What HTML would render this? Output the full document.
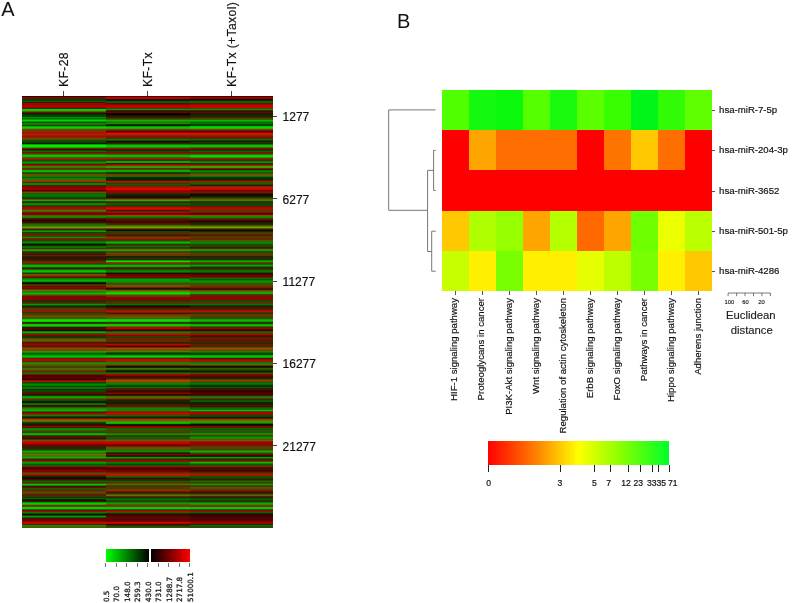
<!DOCTYPE html>
<html><head><meta charset="utf-8"><title>Figure</title>
<style>
html,body{margin:0;padding:0;background:#fff;}
body{width:793px;height:603px;position:relative;overflow:hidden;font-family:"Liberation Sans",sans-serif;color:#111;}
.abs{position:absolute;}
.lab{position:absolute;white-space:nowrap;line-height:1;-webkit-text-stroke:0.18px #111;}
.rot{position:absolute;white-space:nowrap;line-height:1;transform-origin:0 0;transform:rotate(-90deg);-webkit-text-stroke:0.18px #111;}
.tk{position:absolute;background:#444;}
.hc{position:absolute;top:0;height:100%;}
#hc0{left:0.0px;width:84.3px;background:linear-gradient(to bottom,#160000 0.25px,#370000 0.75px,#870000 1.25px,#a00200 1.75px,#730f00 2.25px,#3d1d00 2.75px,#172f00 3.25px,#034a00 3.75px,#004b00 4.25px,#004a00 4.75px,#005f00 5.25px,#036800 5.75px,#1b2a00 6.25px,#570400 6.75px,#910000 7.25px,#bb0000 7.75px,#aa0000 8.25px,#910000 8.75px,#9d0000 9.25px,#c10000 9.75px,#ca0000 10.25px,#ba0000 10.75px,#9f0200 11.25px,#6f0800 11.75px,#4d1100 12.25px,#195f00 12.75px,#04c900 13.25px,#00da00 13.75px,#01d600 14.25px,#18b300 14.75px,#4f6300 15.25px,#724a00 15.75px,#642800 16.25px,#4f0700 16.75px,#370a00 17.25px,#1d1400 17.75px,#0d2a00 18.25px,#024100 18.75px,#004100 19.25px,#003e00 19.75px,#004600 20.25px,#005500 20.75px,#007d00 21.25px,#009d00 21.75px,#007d00 22.25px,#005f00 22.75px,#008700 23.25px,#00b800 23.75px,#00cf00 24.25px,#00d700 24.75px,#00ac00 25.25px,#007b00 25.75px,#005a00 26.25px,#004900 26.75px,#007300 27.25px,#049c00 27.75px,#198200 28.25px,#2d5d00 28.75px,#284600 29.25px,#1d4100 29.75px,#0f8500 30.25px,#02cb00 30.75px,#00d600 31.25px,#01d200 31.75px,#0ec200 32.25px,#2f9a00 32.75px,#475e00 33.25px,#952800 33.75px,#a62100 34.25px,#793a00 34.75px,#634300 35.25px,#5e3d00 35.75px,#742e00 36.25px,#ae0e00 36.75px,#cb0100 37.25px,#d60100 37.75px,#cb0c00 38.25px,#a42500 38.75px,#882c00 39.25px,#7f2600 39.75px,#961400 40.25px,#ac0700 40.75px,#9b1900 41.25px,#843100 41.75px,#784100 42.25px,#6b4d00 42.75px,#505000 43.25px,#3a5700 43.75px,#1e5000 44.25px,#044900 44.75px,#005000 45.25px,#005600 45.75px,#004b00 46.25px,#013900 46.75px,#071700 47.25px,#100c00 47.75px,#076e00 48.25px,#01d900 48.75px,#00eb00 49.25px,#00f000 49.75px,#00f300 50.25px,#00ed00 50.75px,#07d500 51.25px,#2f6b00 51.75px,#7f2b00 52.25px,#7b1400 52.75px,#550500 53.25px,#260900 53.75px,#0c2400 54.25px,#046b00 54.75px,#057c00 55.25px,#105c00 55.75px,#2a2f00 56.25px,#860d00 56.75px,#9c0f00 57.25px,#6c2e00 57.75px,#3b5100 58.25px,#12a400 58.75px,#01c800 59.25px,#00cf00 59.75px,#05c800 60.25px,#10b100 60.75px,#278300 61.25px,#663c00 61.75px,#982c00 62.25px,#9f1e00 62.75px,#7d2800 63.25px,#533800 63.75px,#393900 64.25px,#274100 64.75px,#146400 65.25px,#038700 65.75px,#009100 66.25px,#009300 66.75px,#008700 67.25px,#066b00 67.75px,#3c2300 68.25px,#a00400 68.75px,#be0200 69.25px,#9c1900 69.75px,#436100 70.25px,#1fab00 70.75px,#0bb500 71.25px,#2d5e00 71.75px,#812300 72.25px,#9f0b00 72.75px,#6e1500 73.25px,#146e00 73.75px,#01af00 74.25px,#00c400 74.75px,#00c200 75.25px,#00a900 75.75px,#008900 76.25px,#055300 76.75px,#233800 77.25px,#4a3c00 77.75px,#5f4b00 78.25px,#6b5700 78.75px,#695500 79.25px,#585000 79.75px,#2d6900 80.25px,#078200 80.75px,#006e00 81.25px,#005a00 81.75px,#007300 82.25px,#078c00 82.75px,#2d7800 83.25px,#545c00 83.75px,#695000 84.25px,#7c4400 84.75px,#a52d00 85.25px,#bb1a00 85.75px,#642300 86.25px,#1a4a00 86.75px,#0a7800 87.25px,#019900 87.75px,#009600 88.25px,#048000 88.75px,#223600 89.25px,#630e00 89.75px,#7d0500 90.25px,#890100 90.75px,#870000 91.25px,#840000 91.75px,#920000 92.25px,#b60000 92.75px,#ad0000 93.25px,#730000 93.75px,#500000 94.25px,#3d0100 94.75px,#6a0a00 95.25px,#991900 95.75px,#7a3e00 96.25px,#556700 96.75px,#375f00 97.25px,#184e00 97.75px,#0a6400 98.25px,#017d00 98.75px,#007d00 99.25px,#007800 99.75px,#007300 100.25px,#006c00 100.75px,#005a00 101.25px,#074000 101.75px,#3e1c00 102.25px,#7f1a00 102.75px,#354400 103.25px,#079b00 103.75px,#00b300 104.25px,#04ad00 104.75px,#1e5500 105.25px,#531a00 105.75px,#4e1a00 106.25px,#273000 106.75px,#0b7600 107.25px,#019600 107.75px,#009c00 108.25px,#058b00 108.75px,#105b00 109.25px,#1c4100 109.75px,#313300 110.25px,#572600 110.75px,#980c00 111.25px,#b50100 111.75px,#bb0100 112.25px,#ad0c00 112.75px,#862700 113.25px,#513d00 113.75px,#268300 114.25px,#299300 114.75px,#3c7400 115.25px,#703000 115.75px,#b40700 116.25px,#960000 116.75px,#680200 117.25px,#520f00 117.75px,#591500 118.25px,#8b0e00 118.75px,#853200 119.25px,#605e00 119.75px,#327d00 120.25px,#079200 120.75px,#009100 121.25px,#048000 121.75px,#1e3700 122.25px,#550e00 122.75px,#550500 123.25px,#450100 123.75px,#2d0000 124.25px,#1d0000 124.75px,#370000 125.25px,#540100 125.75px,#550500 126.25px,#460d00 126.75px,#173500 127.25px,#037600 127.75px,#007d00 128.25px,#077600 128.75px,#326400 129.25px,#635900 129.75px,#776400 130.25px,#737000 130.75px,#4ba500 131.25px,#29cc00 131.75px,#3c7800 132.25px,#703400 132.75px,#6d1900 133.25px,#500a00 133.75px,#173f00 134.25px,#039b00 134.75px,#00ad00 135.25px,#009700 135.75px,#015800 136.25px,#0e3e00 136.75px,#2e3a00 137.25px,#503000 137.75px,#811600 138.25px,#8c0f00 138.75px,#5c2500 139.25px,#324600 139.75px,#235500 140.25px,#185e00 140.75px,#1e7d00 141.25px,#2a8b00 141.75px,#4d4300 142.25px,#8c1b00 142.75px,#731e00 143.25px,#4b2800 143.75px,#392f00 144.25px,#2f3f00 144.75px,#195f00 145.25px,#047e00 145.75px,#008c00 146.25px,#008e00 146.75px,#006900 147.25px,#013f00 147.75px,#052300 148.25px,#110f00 148.75px,#271200 149.25px,#1d2500 149.75px,#086500 150.25px,#018300 150.75px,#018700 151.25px,#155a00 151.75px,#6e1900 152.25px,#721f00 152.75px,#247200 153.25px,#10a900 153.75px,#05b100 154.25px,#04a700 154.75px,#195f00 155.25px,#3c2300 155.75px,#4e2300 156.25px,#3f2700 156.75px,#183700 157.25px,#152800 157.75px,#4f0a00 158.25px,#650c00 158.75px,#572600 159.25px,#4d2f00 159.75px,#3c2300 160.25px,#2b1600 160.75px,#2b1400 161.25px,#2d1400 161.75px,#301400 162.25px,#331400 162.75px,#3c1100 163.25px,#470f00 163.75px,#5a0d00 164.25px,#630f00 164.75px,#3c2d00 165.25px,#2c5b00 165.75px,#3f3f00 166.25px,#6a2800 166.75px,#861900 167.25px,#8a1200 167.75px,#343e00 168.25px,#069900 168.75px,#00b300 169.25px,#00c800 169.75px,#00c600 170.25px,#01a900 170.75px,#0e7200 171.25px,#411b00 171.75px,#5f1000 172.25px,#461a00 172.75px,#243500 173.25px,#0b8600 173.75px,#01af00 174.25px,#00c100 174.75px,#00c500 175.25px,#00bf00 175.75px,#00a400 176.25px,#016900 176.75px,#114100 177.25px,#452c00 177.75px,#6c4600 178.25px,#775c00 178.75px,#7d4b00 179.25px,#843200 179.75px,#961900 180.25px,#9d0600 180.75px,#690f00 181.25px,#2a2100 181.75px,#125c00 182.25px,#039500 182.75px,#009b00 183.25px,#009a00 183.75px,#00af00 184.25px,#00bf00 184.75px,#00a500 185.25px,#007f00 185.75px,#004900 186.25px,#011500 186.75px,#100400 187.25px,#2a0400 187.75px,#501900 188.25px,#662f00 188.75px,#324100 189.25px,#145a00 189.75px,#362200 190.25px,#800400 190.75px,#960000 191.25px,#9a0000 191.75px,#820000 192.25px,#680700 192.75px,#642d00 193.25px,#5b5500 193.75px,#407900 194.25px,#368500 194.75px,#5d6000 195.25px,#595e00 195.75px,#218400 196.25px,#09a100 196.75px,#02bc00 197.25px,#02c000 197.75px,#09ae00 198.25px,#1f7900 198.75px,#712c00 199.25px,#a11d00 199.75px,#870f00 200.25px,#6c0200 200.75px,#780000 201.25px,#890000 201.75px,#8c0000 202.25px,#8b0100 202.75px,#820500 203.25px,#720c00 203.75px,#431b00 204.25px,#1f3400 204.75px,#143c00 205.25px,#113200 205.75px,#4d1700 206.25px,#8b1000 206.75px,#3b2d00 207.25px,#077600 207.75px,#009600 208.25px,#009f00 208.75px,#007300 209.25px,#034100 209.75px,#142800 210.25px,#2d1e00 210.75px,#372100 211.25px,#3e2400 211.75px,#503000 212.25px,#5d3b00 212.75px,#4c4100 213.25px,#463e00 213.75px,#692e00 214.25px,#8a1f00 214.75px,#b30a00 215.25px,#ab0a00 215.75px,#6b1f00 216.25px,#382c00 216.75px,#175000 217.25px,#1a5600 217.75px,#403e00 218.25px,#5f3c00 218.75px,#6f3d00 219.25px,#6e4600 219.75px,#654f00 220.25px,#5f5000 220.75px,#594f00 221.25px,#504b00 221.75px,#464900 222.25px,#366900 222.75px,#10b900 223.25px,#01df00 223.75px,#00eb00 224.25px,#00ec00 224.75px,#01e100 225.25px,#0dad00 225.75px,#2e3d00 226.25px,#4f1b00 226.75px,#4a1500 227.25px,#195600 227.75px,#04b900 228.25px,#00d400 228.75px,#00de00 229.25px,#00d400 229.75px,#01b400 230.25px,#097900 230.75px,#2b1600 231.25px,#520100 231.75px,#5f0000 232.25px,#5f0000 232.75px,#540000 233.25px,#450000 233.75px,#280100 234.25px,#0e1800 234.75px,#046800 235.25px,#009800 235.75px,#01b500 236.25px,#0aa900 236.75px,#178000 237.25px,#462d00 237.75px,#9c0600 238.25px,#a90200 238.75px,#760f00 239.25px,#371d00 239.75px,#192d00 240.25px,#0e4000 240.75px,#193700 241.25px,#2a2d00 241.75px,#463c00 242.25px,#604e00 242.75px,#645500 243.25px,#635a00 243.75px,#5c6100 244.25px,#596700 244.75px,#565100 245.25px,#573c00 245.75px,#4b2800 246.25px,#461500 246.75px,#6e0a00 247.25px,#9a0100 247.75px,#aa0000 248.25px,#aa0200 248.75px,#7d0f00 249.25px,#4d1d00 249.75px,#3c2300 250.25px,#3b2800 250.75px,#642d00 251.25px,#8c3400 251.75px,#824600 252.25px,#755300 252.75px,#8c4100 253.25px,#a32e00 253.75px,#963700 254.25px,#744600 254.75px,#327d00 255.25px,#07c000 255.75px,#00aa00 256.25px,#008300 256.75px,#006400 257.25px,#004f00 257.75px,#006400 258.25px,#008100 258.75px,#009b00 259.25px,#00b200 259.75px,#00be00 260.25px,#00c300 260.75px,#00af00 261.25px,#068800 261.75px,#392f00 262.25px,#9a0600 262.75px,#b90000 263.25px,#c50100 263.75px,#c30500 264.25px,#b00c00 264.75px,#5c1c00 265.25px,#184300 265.75px,#0b7c00 266.25px,#149b00 266.75px,#3d7e00 267.25px,#546800 267.75px,#635b00 268.25px,#625800 268.75px,#4d5700 269.25px,#445500 269.75px,#3e4a00 270.25px,#3d4300 270.75px,#423e00 271.25px,#3d4900 271.75px,#367000 272.25px,#3c7700 272.75px,#506300 273.25px,#575600 273.75px,#534a00 274.25px,#5e3800 274.75px,#7c1900 275.25px,#731b00 275.75px,#404700 276.25px,#237600 276.75px,#137f00 277.25px,#2f4800 277.75px,#6a2800 278.25px,#701400 278.75px,#5b0300 279.25px,#4a0000 279.75px,#4b0000 280.25px,#510000 280.75px,#5a0000 281.25px,#620000 281.75px,#5f0000 282.25px,#560000 282.75px,#3c0000 283.25px,#2e0100 283.75px,#690500 284.25px,#ae0e00 284.75px,#c01900 285.25px,#992000 285.75px,#322a00 286.25px,#114400 286.75px,#055e00 287.25px,#007700 287.75px,#008a00 288.25px,#009100 288.75px,#008e00 289.25px,#006400 289.75px,#003f00 290.25px,#005500 290.75px,#007400 291.25px,#008200 291.75px,#038300 292.25px,#145a00 292.75px,#223200 293.25px,#143700 293.75px,#034500 294.25px,#004b00 294.75px,#024d00 295.25px,#0f4100 295.75px,#1f2d00 296.25px,#4b1900 296.75px,#750b00 297.25px,#640500 297.75px,#470200 298.25px,#320a00 298.75px,#1b1900 299.25px,#0d5700 299.75px,#029600 300.25px,#00a500 300.75px,#01a800 301.25px,#0aa000 301.75px,#188c00 302.25px,#405000 302.75px,#773000 303.25px,#5e2300 303.75px,#322a00 304.25px,#0d5c00 304.75px,#014400 305.25px,#001300 305.75px,#000a00 306.25px,#001400 306.75px,#005000 307.25px,#008b00 307.75px,#018e00 308.25px,#0b6100 308.75px,#351000 309.25px,#5f0100 309.75px,#6e0100 310.25px,#4c0f00 310.75px,#0e5600 311.25px,#038400 311.75px,#089100 312.25px,#139100 312.75px,#288800 313.25px,#269300 313.75px,#0cb700 314.25px,#03b900 314.75px,#0b8c00 315.25px,#273200 315.75px,#660600 316.25px,#8c0000 316.75px,#a10400 317.25px,#8c1900 317.75px,#713100 318.25px,#5c4100 318.75px,#2c6a00 319.25px,#078900 319.75px,#006400 320.25px,#003800 320.75px,#002800 321.25px,#071d00 321.75px,#3f1c00 322.25px,#8a2900 322.75px,#a93000 323.25px,#a54000 323.75px,#866000 324.25px,#776d00 324.75px,#6f6d00 325.25px,#576200 325.75px,#214800 326.25px,#093d00 326.75px,#023b00 327.25px,#003700 327.75px,#032c00 328.25px,#190f00 328.75px,#460200 329.25px,#780000 329.75px,#a00000 330.25px,#960000 330.75px,#770500 331.25px,#2a2a00 331.75px,#057500 332.25px,#008c00 332.75px,#009400 333.25px,#009100 333.75px,#068400 334.25px,#2a4e00 334.75px,#683300 335.25px,#682d00 335.75px,#4f2c00 336.25px,#215d00 336.75px,#05a000 337.25px,#00b600 337.75px,#01be00 338.25px,#0ba900 338.75px,#1b6900 339.25px,#4a1400 339.75px,#730100 340.25px,#7c0300 340.75px,#521100 341.25px,#222100 341.75px,#191e00 342.25px,#1a1800 342.75px,#3c2800 343.25px,#5e3c00 343.75px,#645000 344.25px,#6b5a00 344.75px,#913200 345.25px,#b80700 345.75px,#c30000 346.25px,#c70000 346.75px,#c30000 347.25px,#b90000 347.75px,#960000 348.25px,#750000 348.75px,#780000 349.25px,#7b0200 349.75px,#5f0f00 350.25px,#3c1c00 350.75px,#1c2600 351.25px,#0e3800 351.75px,#143700 352.25px,#1f3100 352.75px,#372d00 353.25px,#4a3300 353.75px,#285000 354.25px,#0e7f00 354.75px,#05a200 355.25px,#01b900 355.75px,#05a200 356.25px,#108300 356.75px,#376900 357.25px,#645a00 357.75px,#786400 358.25px,#796b00 358.75px,#5a6e00 359.25px,#407700 359.75px,#377d00 360.25px,#2f8600 360.75px,#19a500 361.25px,#04bb00 361.75px,#059100 362.25px,#0e5600 362.75px,#381a00 363.25px,#810400 363.75px,#960000 364.25px,#980600 364.75px,#6e2600 365.25px,#365900 365.75px,#109400 366.25px,#01a200 366.75px,#009200 367.25px,#027c00 367.75px,#085900 368.25px,#0a5b00 368.75px,#0f6600 369.25px,#2a4d00 369.75px,#533800 370.25px,#6c2300 370.75px,#680b00 371.25px,#360200 371.75px,#2e0000 372.25px,#4d0000 372.75px,#650000 373.25px,#800000 373.75px,#8b0000 374.25px,#8c0000 374.75px,#8a0000 375.25px,#840100 375.75px,#791500 376.25px,#644400 376.75px,#5d5200 377.25px,#634200 377.75px,#792e00 378.25px,#a70f00 378.75px,#a30800 379.25px,#621700 379.75px,#211f00 380.25px,#042d00 380.75px,#002800 381.25px,#011c00 381.75px,#0a0a00 382.25px,#210100 382.75px,#4b0000 383.25px,#670400 383.75px,#342100 384.25px,#175900 384.75px,#146800 385.25px,#196000 385.75px,#452700 386.25px,#811400 386.75px,#3a3f00 387.25px,#109b00 387.75px,#0ab900 388.25px,#0ac100 388.75px,#0aa700 389.25px,#116600 389.75px,#311200 390.25px,#570300 390.75px,#6c0800 391.25px,#551700 391.75px,#1f4a00 392.25px,#1a6b00 392.75px,#225f00 393.25px,#542300 393.75px,#9a0c00 394.25px,#8a1800 394.75px,#512900 395.25px,#147400 395.75px,#148100 396.25px,#424700 396.75px,#722e00 397.25px,#990e00 397.75px,#a40300 398.25px,#8c0b00 398.75px,#362200 399.25px,#085600 399.75px,#085b00 400.25px,#144600 400.75px,#342300 401.25px,#302a00 401.75px,#0d6300 402.25px,#016900 402.75px,#013500 403.25px,#091100 403.75px,#320400 404.25px,#400500 404.75px,#351000 405.25px,#1c2d00 405.75px,#088400 406.25px,#01b200 406.75px,#00cc00 407.25px,#00d500 407.75px,#01cf00 408.25px,#168f00 408.75px,#712100 409.25px,#ad1300 409.75px,#982600 410.25px,#375f00 410.75px,#08c200 411.25px,#00d900 411.75px,#00dc00 412.25px,#00c500 412.75px,#049d00 413.25px,#1f3d00 413.75px,#640600 414.25px,#8c0000 414.75px,#9f0600 415.25px,#7b2800 415.75px,#3e5500 416.25px,#138300 416.75px,#047300 417.25px,#0a2900 417.75px,#0f0b00 418.25px,#110b00 418.75px,#0b2700 419.25px,#047500 419.75px,#009e00 420.25px,#01a100 420.75px,#057800 421.25px,#0d4400 421.75px,#321400 422.25px,#6c0300 422.75px,#6e0000 423.25px,#680000 423.75px,#730000 424.25px,#810000 424.75px,#8c0000 425.25px,#9a0000 425.75px,#be0000 426.25px,#df0000 426.75px,#da0000 427.25px,#b50700 427.75px,#6c1800 428.25px,#323100 428.75px,#0e8200 429.25px,#069d00 429.75px,#0f9000 430.25px,#326500 430.75px,#5a4e00 431.25px,#5a6000 431.75px);}
#hc1{left:84.0px;width:84.3px;background:linear-gradient(to bottom,#340000 0.25px,#5a0000 0.75px,#b40000 1.25px,#d60000 1.75px,#c30000 2.25px,#a00100 2.75px,#4e0800 3.25px,#061600 3.75px,#002300 4.25px,#002900 4.75px,#004000 5.25px,#007300 5.75px,#077800 6.25px,#194600 6.75px,#3d1700 7.25px,#680300 7.75px,#7c0000 8.25px,#9c0000 8.75px,#b00000 9.25px,#c10000 9.75px,#c50000 10.25px,#c00000 10.75px,#bb0200 11.25px,#aa0f00 11.75px,#872000 12.25px,#314f00 12.75px,#08a000 13.25px,#0a9400 13.75px,#0f5f00 14.25px,#0a1800 14.75px,#2f0100 15.25px,#830000 15.75px,#8e0000 16.25px,#510000 16.75px,#200000 17.25px,#040000 17.75px,#000000 18.25px,#030200 18.75px,#140f00 19.25px,#261b00 19.75px,#2d1900 20.25px,#2b1600 20.75px,#122500 21.25px,#093f00 21.75px,#2d3600 22.25px,#5f3c00 22.75px,#534900 23.25px,#426700 23.75px,#239800 24.25px,#07c000 24.75px,#0aa700 25.25px,#158600 25.75px,#237800 26.25px,#2c7400 26.75px,#198c00 27.25px,#049a00 27.75px,#005a00 28.25px,#001700 28.75px,#001500 29.25px,#002900 29.75px,#007300 30.25px,#00bc00 30.75px,#00c900 31.25px,#01cb00 31.75px,#0cbe00 32.25px,#279800 32.75px,#405c00 33.25px,#992500 33.75px,#ab1000 34.25px,#740500 34.75px,#570000 35.25px,#4d0000 35.75px,#6e0000 36.25px,#c80000 36.75px,#f00000 37.25px,#f60100 37.75px,#e00c00 38.25px,#a42500 38.75px,#7f2c00 39.25px,#752600 39.75px,#8c1400 40.25px,#a00600 40.75px,#821400 41.25px,#5e2600 41.75px,#502d00 42.25px,#3f3400 42.75px,#285f00 43.25px,#158600 43.75px,#0a6400 44.25px,#013700 44.75px,#002100 45.25px,#001400 45.75px,#002000 46.25px,#062700 46.75px,#3e1200 47.25px,#771100 47.75px,#2e4700 48.25px,#06ac00 48.75px,#00c200 49.25px,#00cd00 49.75px,#00cf00 50.25px,#00ca00 50.75px,#07b800 51.25px,#305d00 51.75px,#822900 52.25px,#8b1400 52.75px,#7c0400 53.25px,#4f0a00 53.75px,#191e00 54.25px,#064800 54.75px,#075400 55.25px,#184800 55.75px,#372900 56.25px,#930c00 56.75px,#ab0a00 57.25px,#851f00 57.75px,#4a3800 58.25px,#139100 58.75px,#01be00 59.25px,#00c500 59.75px,#05c100 60.25px,#10af00 60.75px,#278200 61.25px,#663c00 61.75px,#952c00 62.25px,#981d00 62.75px,#781e00 63.25px,#542700 63.75px,#412d00 64.25px,#2f3c00 64.75px,#198400 65.25px,#04c800 65.75px,#00c300 66.25px,#009600 66.75px,#044200 67.25px,#290b00 67.75px,#770100 68.25px,#bf0100 68.75px,#ce0c00 69.25px,#a42b00 69.75px,#456600 70.25px,#1bc000 70.75px,#15c400 71.25px,#248700 71.75px,#6a2900 72.25px,#8f1b00 72.75px,#592a00 73.25px,#147c00 73.75px,#01ac00 74.25px,#00b900 74.75px,#00b400 75.25px,#009800 75.75px,#006500 76.25px,#043800 76.75px,#1c2600 77.25px,#412a00 77.75px,#553c00 78.25px,#634c00 78.75px,#694b00 79.25px,#634700 79.75px,#375500 80.25px,#186b00 80.75px,#0a4300 81.25px,#011900 81.75px,#002100 82.25px,#002f00 82.75px,#002d00 83.25px,#042600 83.75px,#201b00 84.25px,#541c00 84.75px,#9d1400 85.25px,#d60e00 85.75px,#ac1900 86.25px,#6b2700 86.75px,#283700 87.25px,#065e00 87.75px,#006900 88.25px,#066500 88.75px,#2b3a00 89.25px,#6d2800 89.75px,#822300 90.25px,#8d1d00 90.75px,#a01400 91.25px,#b20b00 91.75px,#c40800 92.25px,#e90200 92.75px,#f40000 93.25px,#e30000 93.75px,#af0000 94.25px,#850000 94.75px,#960000 95.25px,#a90200 95.75px,#870f00 96.25px,#5f1c00 96.75px,#501e00 97.25px,#421e00 97.75px,#212100 98.25px,#0e2e00 98.75px,#0f2800 99.25px,#131d00 99.75px,#161200 100.25px,#1e0b00 100.75px,#230a00 101.25px,#310a00 101.75px,#690a00 102.25px,#8f1100 102.75px,#414b00 103.25px,#19b300 103.75px,#14c200 104.25px,#18ad00 104.75px,#364a00 105.25px,#7a1200 105.75px,#761400 106.25px,#442100 106.75px,#0f4b00 107.25px,#016500 107.75px,#006b00 108.25px,#026400 108.75px,#094f00 109.25px,#183800 109.75px,#492700 110.25px,#7c1f00 110.75px,#b90900 111.25px,#d70100 111.75px,#e80000 112.25px,#e60200 112.75px,#ce0800 113.25px,#981200 113.75px,#342600 114.25px,#2b2700 114.75px,#541d00 115.25px,#980f00 115.75px,#ce0200 116.25px,#a70000 116.75px,#730000 117.25px,#570000 117.75px,#610000 118.25px,#a20800 118.75px,#a33700 119.25px,#7a6300 119.75px,#417300 120.25px,#117f00 120.75px,#057d00 121.25px,#067000 121.75px,#213a00 122.25px,#571f00 122.75px,#5a1900 123.25px,#511400 123.75px,#4b0f00 124.25px,#470a00 124.75px,#460500 125.25px,#470100 125.75px,#500000 126.25px,#540300 126.75px,#3e1700 127.25px,#292c00 127.75px,#283700 128.25px,#2d3d00 128.75px,#4d4d00 129.25px,#736200 129.75px,#826e00 130.25px,#7e7900 130.75px,#55a700 131.25px,#33c700 131.75px,#456b00 132.25px,#7f2c00 132.75px,#5f1400 133.25px,#2e0400 133.75px,#180600 134.25px,#0a1400 134.75px,#064200 135.25px,#0e5f00 135.75px,#2a3f00 136.25px,#3d3400 136.75px,#443900 137.25px,#4f3000 137.75px,#641600 138.25px,#690c00 138.75px,#501400 139.25px,#3b1e00 139.75px,#502800 140.25px,#6a3200 140.75px,#6e3c00 141.25px,#734000 141.75px,#912800 142.25px,#a71100 142.75px,#821900 143.25px,#562700 143.75px,#463200 144.25px,#394000 144.75px,#286900 145.25px,#159300 145.75px,#0aaf00 146.25px,#01bf00 146.75px,#00a500 147.25px,#018000 147.75px,#0b5000 148.25px,#232600 148.75px,#552c00 149.25px,#4c3600 149.75px,#226000 150.25px,#136d00 150.75px,#0e5700 151.25px,#223000 151.75px,#801300 152.25px,#7a1f00 152.75px,#267000 153.25px,#15a900 153.75px,#14b100 154.25px,#18a700 154.75px,#2d5f00 155.25px,#5b2c00 155.75px,#762900 156.25px,#6c3300 156.75px,#3c5800 157.25px,#3c5800 157.75px,#6e3300 158.25px,#812d00 158.75px,#6d3700 159.25px,#5c3800 159.75px,#2c2700 160.25px,#072000 160.75px,#062700 161.25px,#172700 161.75px,#492500 162.25px,#542300 162.75px,#341a00 163.25px,#183000 163.75px,#078500 164.25px,#00b900 164.75px,#00e300 165.25px,#07e200 165.75px,#307d00 166.25px,#7c3400 166.75px,#9f1e00 167.25px,#9f1200 167.75px,#433900 168.25px,#108f00 168.75px,#08ab00 169.25px,#02c500 169.75px,#02be00 170.25px,#099200 170.75px,#185400 171.25px,#5e1100 171.75px,#7b0600 172.25px,#5c1000 172.75px,#302400 173.25px,#0c7000 173.75px,#018a00 174.25px,#007800 174.75px,#007d00 175.25px,#009a00 175.75px,#008500 176.25px,#013300 176.75px,#100800 177.25px,#440200 177.75px,#5e0000 178.25px,#650000 178.75px,#730000 179.25px,#810000 179.75px,#8c0000 180.25px,#8f0100 180.75px,#730a00 181.25px,#4a1700 181.75px,#194600 182.25px,#048b00 182.75px,#009b00 183.25px,#009f00 183.75px,#00a000 184.25px,#009f00 184.75px,#009b00 185.25px,#009500 185.75px,#008c00 186.25px,#077a00 186.75px,#374600 187.25px,#873100 187.75px,#9a2300 188.25px,#8e1d00 188.75px,#3e5200 189.25px,#1eaa00 189.75px,#327700 190.25px,#5d3b00 190.75px,#871e00 191.25px,#990400 191.75px,#5c0000 192.25px,#1c0400 192.75px,#191b00 193.25px,#2b3b00 193.75px,#4b5500 194.25px,#6d6a00 194.75px,#7a6e00 195.25px,#5e7e00 195.75px,#24b800 196.25px,#09d600 196.75px,#03e400 197.25px,#05db00 197.75px,#10b700 198.25px,#277e00 198.75px,#6d3500 199.25px,#982a00 199.75px,#822d00 200.25px,#6b2e00 200.75px,#731900 201.25px,#810400 201.75px,#870000 202.25px,#8b0100 202.75px,#870500 203.25px,#7b0c00 203.75px,#501e00 204.25px,#2a3400 204.75px,#283c00 205.25px,#2d3400 205.75px,#692300 206.25px,#971900 206.75px,#412e00 207.25px,#076b00 207.75px,#007d00 208.25px,#007900 208.75px,#004b00 209.25px,#031800 209.75px,#1e0500 210.25px,#420100 210.75px,#500000 211.25px,#590200 211.75px,#5a0f00 212.25px,#531e00 212.75px,#323000 213.25px,#2d3d00 213.75px,#652c00 214.25px,#981f00 214.75px,#cd0a00 215.25px,#d40300 215.75px,#ae0800 216.25px,#781000 216.75px,#222300 217.25px,#1e2e00 217.75px,#602f00 218.25px,#7b3400 218.75px,#723b00 219.25px,#694600 219.75px,#654f00 220.25px,#645500 220.75px,#635900 221.25px,#5f5500 221.75px,#585100 222.25px,#416c00 222.75px,#14b600 223.25px,#01da00 223.75px,#00e600 224.25px,#00e500 224.75px,#01d500 225.25px,#0ea600 225.75px,#304300 226.25px,#4f2400 226.75px,#4a1f00 227.25px,#1c5d00 227.75px,#04b900 228.25px,#00cf00 228.75px,#01d500 229.25px,#0ec300 229.75px,#2e9300 230.25px,#485300 230.75px,#971600 231.25px,#be0100 231.75px,#c40000 232.25px,#b00000 232.75px,#7b0000 233.25px,#5c0000 233.75px,#440100 234.25px,#260d00 234.75px,#0f4600 235.25px,#087200 235.75px,#099100 236.25px,#2b6f00 236.75px,#5f4200 237.25px,#a02300 237.75px,#d20500 238.25px,#cc0200 238.75px,#880f00 239.25px,#3f1e00 239.75px,#173e00 240.25px,#095e00 240.75px,#2b3400 241.25px,#6c2000 241.75px,#7d1e00 242.25px,#7f1f00 242.75px,#732300 243.25px,#642900 243.75px,#553200 244.25px,#4b3800 244.75px,#5a2d00 245.25px,#652000 245.75px,#461e00 246.25px,#281e00 246.75px,#371e00 247.25px,#561d00 247.75px,#911400 248.25px,#c20b00 248.75px,#aa0500 249.25px,#810100 249.75px,#550000 250.25px,#380400 250.75px,#691900 251.25px,#9d3200 251.75px,#914b00 252.25px,#805d00 252.75px,#964b00 253.25px,#ac3700 253.75px,#9b3c00 254.25px,#754700 254.75px,#327a00 255.25px,#07b600 255.75px,#008400 256.25px,#004600 256.75px,#003700 257.25px,#003500 257.75px,#004100 258.25px,#005700 258.75px,#008e00 259.25px,#00c500 259.75px,#00d200 260.25px,#00d100 260.75px,#00b600 261.25px,#068a00 261.75px,#313100 262.25px,#8b0600 262.75px,#be0000 263.25px,#df0100 263.75px,#dc0500 264.25px,#ca0e00 264.75px,#912800 265.25px,#504400 265.75px,#2b7000 266.25px,#189000 266.75px,#298100 267.25px,#3d6f00 267.75px,#5a5b00 268.25px,#635300 268.75px,#4e4200 269.25px,#352f00 269.75px,#101500 270.25px,#080b00 270.75px,#1d1200 271.25px,#262a00 271.75px,#356d00 272.25px,#3c7e00 272.75px,#3b6500 273.25px,#305100 273.75px,#163b00 274.25px,#082a00 274.75px,#031800 275.25px,#051d00 275.75px,#0f3f00 276.25px,#146d00 276.75px,#1a7f00 277.25px,#4a3600 277.75px,#a50f00 278.25px,#b80500 278.75px,#9e0100 279.25px,#7a0000 279.75px,#5f0000 280.25px,#490200 280.75px,#410f00 281.25px,#3f1a00 281.75px,#4b1400 282.25px,#591200 282.75px,#5f3700 283.25px,#665c00 283.75px,#795900 284.25px,#9c4a00 284.75px,#c73a00 285.25px,#bc3900 285.75px,#764900 286.25px,#425b00 286.75px,#148300 287.25px,#018b00 287.75px,#008100 288.25px,#007300 288.75px,#006100 289.25px,#004100 289.75px,#002b00 290.25px,#005000 290.75px,#017800 291.25px,#057300 291.75px,#0d5a00 292.25px,#331f00 292.75px,#740400 293.25px,#730000 293.75px,#610100 294.25px,#410a00 294.75px,#251300 295.25px,#281400 295.75px,#381300 296.25px,#640f00 296.75px,#8a0a00 297.25px,#780500 297.75px,#5a0100 298.25px,#3c0000 298.75px,#250700 299.25px,#332e00 299.75px,#4b5c00 300.25px,#506900 300.75px,#506d00 301.25px,#506900 301.75px,#505c00 302.25px,#633c00 302.75px,#6b2000 303.25px,#441700 303.75px,#291800 304.25px,#172700 304.75px,#0f3100 305.25px,#0d2d00 305.75px,#1b1600 306.25px,#320d00 306.75px,#1b1600 307.25px,#0d2e00 307.75px,#103500 308.25px,#272200 308.75px,#720a00 309.25px,#8f0300 309.75px,#840900 310.25px,#581800 310.75px,#185800 311.25px,#0b8200 311.75px,#0a8900 312.25px,#0c8700 312.75px,#127d00 313.25px,#1b7b00 313.75px,#2b7f00 314.25px,#367300 314.75px,#454b00 315.25px,#772300 315.75px,#a70500 316.25px,#c50000 316.75px,#d90100 317.25px,#c50a00 317.75px,#aa1500 318.25px,#832400 318.75px,#2d4a00 319.25px,#067c00 319.75px,#005f00 320.25px,#003800 320.75px,#002d00 321.25px,#072500 321.75px,#3d1e00 322.25px,#8a2900 322.75px,#a93000 323.25px,#a33e00 323.75px,#7e5800 324.25px,#6f6600 324.75px,#6c6d00 325.25px,#568300 325.75px,#22b400 326.25px,#0bce00 326.75px,#09ca00 327.25px,#058400 327.75px,#013a00 328.25px,#031700 328.75px,#120200 329.25px,#500000 329.75px,#8d0000 330.25px,#a00000 330.75px,#a00400 331.25px,#731e00 331.75px,#3e3b00 332.25px,#1e5f00 332.75px,#047b00 333.25px,#007800 333.75px,#066800 334.25px,#2c4000 334.75px,#6c3200 335.25px,#7c2d00 335.75px,#722b00 336.25px,#2d4600 336.75px,#068200 337.25px,#009100 337.75px,#049200 338.25px,#1e7b00 338.75px,#3c4d00 339.25px,#632a00 339.75px,#4f2300 340.25px,#124a00 340.75px,#016700 341.25px,#016c00 341.75px,#056400 342.25px,#105900 342.75px,#3b4a00 343.25px,#725000 343.75px,#675d00 344.25px,#5c6300 344.75px,#8a3400 345.25px,#c00800 345.75px,#cd0000 346.25px,#d00000 346.75px,#c80000 347.25px,#ba0000 347.75px,#960000 348.25px,#750000 348.75px,#730000 349.25px,#770400 349.75px,#731900 350.25px,#6d3100 350.75px,#644600 351.25px,#5b5700 351.75px,#5a5a00 352.25px,#5b5900 352.75px,#5f5500 353.25px,#585000 353.75px,#326900 354.25px,#0f8800 354.75px,#059600 355.25px,#019600 355.75px,#006400 356.25px,#042d00 356.75px,#1f1500 357.25px,#4e1300 357.75px,#730a00 358.25px,#8a0100 358.75px,#690000 359.25px,#3d0300 359.75px,#1a1500 360.25px,#0b4000 360.75px,#058700 361.25px,#01bd00 361.75px,#059100 362.25px,#0e4e00 362.75px,#3e1700 363.25px,#8b0300 363.75px,#a50000 364.25px,#ad0300 364.75px,#8e1500 365.25px,#492e00 365.75px,#127300 366.25px,#018a00 366.75px,#007700 367.25px,#006300 367.75px,#014b00 368.25px,#055100 368.75px,#0e5b00 369.25px,#2f3e00 369.75px,#682f00 370.25px,#8a1e00 370.75px,#8c0b00 371.25px,#560200 371.75px,#420000 372.25px,#4c0000 372.75px,#570000 373.25px,#670000 373.75px,#6e0000 374.25px,#6e0000 374.75px,#6c0500 375.25px,#661000 375.75px,#661b00 376.25px,#6c2b00 376.75px,#7a2d00 377.25px,#952200 377.75px,#b01a00 378.25px,#d50f00 378.75px,#d41100 379.25px,#a02300 379.75px,#3b3f00 380.25px,#077200 380.75px,#006400 381.25px,#014700 381.75px,#0a2d00 382.25px,#191500 382.75px,#4b0a00 383.25px,#6f0600 383.75px,#391c00 384.25px,#174f00 384.75px,#145f00 385.25px,#195a00 385.75px,#433000 386.25px,#7f2400 386.75px,#533a00 387.25px,#366c00 387.75px,#3c7300 388.25px,#446b00 388.75px,#415400 389.25px,#403a00 389.75px,#4c2d00 390.25px,#542d00 390.75px,#5e3700 391.25px,#483c00 391.75px,#275100 392.25px,#334500 392.75px,#643800 393.25px,#a12300 393.75px,#c81200 394.25px,#ac1a00 394.75px,#772000 395.25px,#202e00 395.75px,#113a00 396.25px,#1f2400 396.75px,#3f1900 397.25px,#741000 397.75px,#8a2400 398.25px,#7c5c00 398.75px,#468800 399.25px,#1d8800 399.75px,#2d4900 400.25px,#412c00 400.75px,#511b00 401.25px,#391b00 401.75px,#0d4900 402.25px,#016900 402.75px,#007a00 403.25px,#027300 403.75px,#095300 404.25px,#193c00 404.75px,#463000 405.25px,#413900 405.75px,#196a00 406.25px,#098a00 406.75px,#02a000 407.25px,#00a500 407.75px,#029800 408.25px,#1a6300 408.75px,#872100 409.25px,#c61700 409.75px,#b92100 410.25px,#475400 410.75px,#09bb00 411.25px,#00d700 411.75px,#00db00 412.25px,#00c500 412.75px,#059c00 413.25px,#2b3a00 413.75px,#7f0700 414.25px,#a50500 414.75px,#b30e00 415.25px,#8a2800 415.75px,#474600 416.25px,#1b6800 416.75px,#0b5900 417.25px,#0c1600 417.75px,#240100 418.25px,#4a0000 418.75px,#5b0000 419.25px,#600000 419.75px,#5a0000 420.25px,#510200 420.75px,#4b0f00 421.25px,#491a00 421.75px,#550f00 422.25px,#610200 422.75px,#5f0000 423.25px,#5c0000 423.75px,#640000 424.25px,#6e0000 424.75px,#780000 425.25px,#880000 425.75px,#b60000 426.25px,#e00000 426.75px,#d20000 427.25px,#a30000 427.75px,#5a0100 428.25px,#2b0900 428.75px,#0f3100 429.25px,#0a5300 429.75px,#0e5d00 430.25px,#264500 430.75px,#403c00 431.25px,#455c00 431.75px);}
#hc2{left:168.0px;width:83.4px;background:linear-gradient(to bottom,#340000 0.25px,#530000 0.75px,#9d0000 1.25px,#b50000 1.75px,#910000 2.25px,#690000 2.75px,#4a0300 3.25px,#100c00 3.75px,#012000 4.25px,#003500 4.75px,#005100 5.25px,#017f00 5.75px,#097d00 6.25px,#1f4800 6.75px,#382300 7.25px,#6d0b00 7.75px,#910100 8.25px,#b80000 8.75px,#c80000 9.25px,#cd0000 9.75px,#d00000 10.25px,#c80000 10.75px,#bd0300 11.25px,#aa1400 11.75px,#882800 12.25px,#335000 12.75px,#089800 13.25px,#0a8a00 13.75px,#115a00 14.25px,#111d00 14.75px,#320800 15.25px,#760200 15.75px,#810200 16.25px,#580800 16.75px,#3a0d00 17.25px,#1c1600 17.75px,#102200 18.25px,#052d00 18.75px,#072f00 19.25px,#182700 19.75px,#2a1b00 20.25px,#381800 20.75px,#322800 21.25px,#333f00 21.75px,#463c00 22.25px,#583d00 22.75px,#3c5000 23.25px,#287900 23.75px,#14a500 24.25px,#03c500 24.75px,#00aa00 25.25px,#008500 25.75px,#006e00 26.25px,#006100 26.75px,#007300 27.25px,#008100 27.75px,#005a00 28.25px,#003200 28.75px,#003200 29.25px,#005900 29.75px,#00b000 30.25px,#00d500 30.75px,#00d700 31.25px,#01d600 31.75px,#0ec800 32.25px,#2fa200 32.75px,#486400 33.25px,#9b2800 33.75px,#ae1100 34.25px,#7b0500 34.75px,#5c0000 35.25px,#480000 35.75px,#650000 36.25px,#be0000 36.75px,#e60000 37.25px,#ec0100 37.75px,#dd0c00 38.25px,#ae2600 38.75px,#7e3100 39.25px,#652e00 39.75px,#821900 40.25px,#9f0600 40.75px,#870f00 41.25px,#671d00 41.75px,#552800 42.25px,#423300 42.75px,#2d5500 43.25px,#1e7500 43.75px,#0f5500 44.25px,#022f00 44.75px,#002d00 45.25px,#003300 45.75px,#003c00 46.25px,#053c00 46.75px,#301800 47.25px,#661200 47.75px,#274500 48.25px,#05a300 48.75px,#00bb00 49.25px,#00cb00 49.75px,#00cf00 50.25px,#01c700 50.75px,#159700 51.25px,#553700 51.75px,#891f00 52.25px,#8b0a00 52.75px,#740500 53.25px,#3e1000 53.75px,#192600 54.25px,#076500 54.75px,#077200 55.25px,#185200 55.75px,#352a00 56.25px,#8b0c00 56.75px,#a30a00 57.25px,#832000 57.75px,#493c00 58.25px,#13a100 58.75px,#01d200 59.25px,#00dd00 59.75px,#00e000 60.25px,#00dc00 60.75px,#07c700 61.25px,#2f6400 61.75px,#812c00 62.25px,#8c1e00 62.75px,#7f1700 63.25px,#641e00 63.75px,#452a00 64.25px,#333600 64.75px,#265500 65.25px,#0c9000 65.75px,#01a300 66.25px,#019100 66.75px,#0a5500 67.25px,#1c1a00 67.75px,#5f0a00 68.25px,#a30600 68.75px,#b11600 69.25px,#874300 69.75px,#548400 70.25px,#2fb700 70.75px,#26bb00 71.25px,#369100 71.75px,#573600 72.25px,#850a00 72.75px,#680900 73.25px,#371700 73.75px,#0c5d00 74.25px,#018400 74.75px,#009100 75.25px,#008a00 75.75px,#016f00 76.25px,#105e00 76.75px,#364d00 77.25px,#4e4a00 77.75px,#655500 78.25px,#6d5a00 78.75px,#6e5a00 79.25px,#635800 79.75px,#375f00 80.25px,#106700 80.75px,#054b00 81.25px,#012e00 81.75px,#002d00 82.25px,#013100 82.75px,#053200 83.25px,#0d2e00 83.75px,#2e1e00 84.25px,#641d00 84.75px,#9b1900 85.25px,#bb1800 85.75px,#6e2d00 86.25px,#2b5800 86.75px,#146900 87.25px,#046a00 87.75px,#055a00 88.25px,#0d4000 88.75px,#2d1400 89.25px,#670700 89.75px,#7d1900 90.25px,#8b2e00 90.75px,#912d00 91.25px,#9b2600 91.75px,#be1400 92.25px,#e00300 92.75px,#dc0000 93.25px,#bf0000 93.75px,#880000 94.25px,#5e0100 94.75px,#780500 95.25px,#960b00 95.75px,#821400 96.25px,#651b00 96.75px,#4b1400 97.25px,#330b00 97.75px,#1e0a00 98.25px,#0d0a00 98.75px,#0d0d00 99.25px,#0e1000 99.75px,#0d1c00 100.25px,#0d2800 100.75px,#193200 101.25px,#2a3800 101.75px,#553700 102.25px,#773d00 102.75px,#435800 103.25px,#238c00 103.75px,#1e9600 104.25px,#208800 104.75px,#333d00 105.25px,#5f1300 105.75px,#4e1e00 106.25px,#283300 106.75px,#0c4900 107.25px,#035000 107.75px,#085000 108.25px,#0c4e00 108.75px,#124700 109.25px,#203800 109.75px,#4c2900 110.25px,#751f00 110.75px,#a10900 111.25px,#b80100 111.75px,#c20100 112.25px,#ba0900 112.75px,#981f00 113.25px,#662d00 113.75px,#294b00 114.25px,#394000 114.75px,#722f00 115.25px,#9b1900 115.75px,#b10400 116.25px,#870000 116.75px,#570000 117.25px,#480000 117.75px,#570300 118.25px,#8c0f00 118.75px,#8f3c00 119.25px,#706500 119.75px,#3e7a00 120.25px,#118900 120.75px,#058c00 121.25px,#068200 121.75px,#254800 122.25px,#5e2900 122.75px,#5f1e00 123.25px,#501400 123.75px,#410a00 124.25px,#340100 124.75px,#300000 125.25px,#2e0100 125.75px,#2f0a00 126.25px,#2e1400 126.75px,#1e1e00 127.25px,#162f00 127.75px,#193200 128.25px,#223300 128.75px,#423d00 129.25px,#6a5000 129.75px,#7d6400 130.25px,#7d7700 130.75px,#55a700 131.25px,#32c700 131.75px,#416b00 132.25px,#762d00 132.75px,#551900 133.25px,#230c00 133.75px,#0c0c00 134.25px,#031500 134.75px,#0b2300 135.25px,#1d3100 135.75px,#383700 136.25px,#4a3e00 136.75px,#564300 137.25px,#5e3800 137.75px,#691800 138.25px,#690e00 138.75px,#501e00 139.25px,#393000 139.75px,#413700 140.25px,#4f3b00 140.75px,#553c00 141.25px,#5d3800 141.75px,#732300 142.25px,#821200 142.75px,#5f2800 143.25px,#3d4800 143.75px,#3c5a00 144.25px,#3c6300 144.75px,#3c6400 145.25px,#386800 145.75px,#1e7d00 146.25px,#049000 146.75px,#008700 147.25px,#017700 147.75px,#0b5f00 148.25px,#1f4400 148.75px,#423800 149.25px,#413a00 149.75px,#214700 150.25px,#174400 150.75px,#1c2800 151.25px,#3a1a00 151.75px,#771000 152.25px,#641e00 152.75px,#227400 153.25px,#10a900 153.75px,#05b000 154.25px,#059a00 154.75px,#105f00 155.25px,#223c00 155.75px,#513100 156.25px,#553700 156.75px,#325000 157.25px,#325000 157.75px,#563700 158.25px,#653500 158.75px,#573a00 159.25px,#493900 159.75px,#232d00 160.25px,#082900 160.75px,#142800 161.25px,#2d2400 161.75px,#462000 162.25px,#441e00 162.75px,#281f00 163.25px,#173a00 163.75px,#077a00 164.25px,#009b00 164.75px,#00ad00 165.25px,#05aa00 165.75px,#217500 166.25px,#423e00 166.75px,#682800 167.25px,#771b00 167.75px,#2e3e00 168.25px,#068800 168.75px,#009d00 169.25px,#00ab00 169.75px,#009a00 170.25px,#015e00 170.75px,#0e2e00 171.25px,#4b1000 171.75px,#620f00 172.25px,#4e1a00 172.75px,#2f2700 173.25px,#135600 173.75px,#0b6a00 174.25px,#0a6700 174.75px,#087000 175.25px,#028800 175.75px,#007900 176.25px,#013900 176.75px,#0d1100 177.25px,#420400 177.75px,#5b0000 178.25px,#600000 178.75px,#670000 179.25px,#6e0000 179.75px,#730000 180.25px,#730400 180.75px,#5a1e00 181.25px,#3a3b00 181.75px,#1e5f00 182.25px,#047800 182.75px,#006400 183.25px,#005000 183.75px,#006e00 184.25px,#009000 184.75px,#009600 185.25px,#009500 185.75px,#009100 186.25px,#078300 186.75px,#324b00 187.25px,#7a3300 187.75px,#7c3200 188.25px,#663400 188.75px,#324b00 189.25px,#1c7200 189.75px,#304d00 190.25px,#5f3000 190.75px,#871900 191.25px,#9f0400 191.75px,#810000 192.25px,#4c0500 192.75px,#1d1200 193.25px,#212600 193.75px,#4f4300 194.25px,#6a5400 194.75px,#785f00 195.25px,#5c6a00 195.75px,#239600 196.25px,#09b000 196.75px,#03bf00 197.25px,#05ab00 197.75px,#106a00 198.25px,#263300 198.75px,#781300 199.25px,#990b00 199.75px,#820f00 200.25px,#6c1200 200.75px,#7d0a00 201.25px,#920100 201.75px,#960000 202.25px,#950100 202.75px,#8c0500 203.25px,#770d00 203.75px,#342500 204.25px,#115700 204.75px,#195500 205.25px,#2a3f00 205.75px,#612600 206.25px,#8f1a00 206.75px,#432f00 207.25px,#106b00 207.75px,#057800 208.25px,#017300 208.75px,#005500 209.25px,#033300 209.75px,#1a1a00 210.25px,#401400 210.75px,#500f00 211.25px,#580c00 211.75px,#551400 212.25px,#4d1e00 212.75px,#392800 213.25px,#3c2c00 213.75px,#732200 214.25px,#9e1700 214.75px,#cc0700 215.25px,#c90700 215.75px,#961700 216.25px,#602000 216.75px,#1c3000 217.25px,#1e3b00 217.75px,#573700 218.25px,#713c00 218.75px,#663c00 219.25px,#553f00 219.75px,#484100 220.25px,#464100 220.75px,#454100 221.25px,#404200 221.75px,#3c4700 222.25px,#2e5e00 222.75px,#0e9300 223.25px,#01ae00 223.75px,#00bd00 224.25px,#00bd00 224.75px,#01ae00 225.25px,#0d8800 225.75px,#2b3c00 226.25px,#412400 226.75px,#341e00 227.25px,#145500 227.75px,#03a000 228.25px,#00b900 228.75px,#00c500 229.25px,#00ba00 229.75px,#019700 230.25px,#125a00 230.75px,#621000 231.25px,#950100 231.75px,#9c0000 232.25px,#8d0000 232.75px,#630000 233.25px,#4c0000 233.75px,#400100 234.25px,#290e00 234.75px,#164600 235.25px,#126b00 235.75px,#117a00 236.25px,#2b5200 236.75px,#5f3000 237.25px,#911900 237.75px,#b80400 238.25px,#b70200 238.75px,#770f00 239.25px,#311c00 239.75px,#1c2500 240.25px,#192800 240.75px,#491600 241.25px,#830c00 241.75px,#910a00 242.25px,#8f0c00 242.75px,#6e1900 243.25px,#4b2500 243.75px,#412300 244.25px,#411e00 244.75px,#5a1900 245.25px,#6e1600 245.75px,#501e00 246.25px,#2e2700 246.75px,#282800 247.25px,#302600 247.75px,#5f1900 248.25px,#850f00 248.75px,#5a1e00 249.25px,#2c3200 249.75px,#2d3700 250.25px,#393200 250.75px,#693200 251.25px,#943700 251.75px,#845200 252.25px,#726900 252.75px,#894d00 253.25px,#a13000 253.75px,#8c3700 254.25px,#644500 254.75px,#2d6e00 255.25px,#079c00 255.75px,#008700 256.25px,#006500 256.75px,#004b00 257.25px,#003800 257.75px,#004100 258.25px,#005700 258.75px,#008c00 259.25px,#00c000 259.75px,#00ca00 260.25px,#00c900 260.75px,#00b100 261.25px,#038c00 261.75px,#183600 262.25px,#560600 262.75px,#910000 263.25px,#c00000 263.75px,#c80000 264.25px,#be0500 264.75px,#872300 265.25px,#484400 265.75px,#246800 266.25px,#0f8200 266.75px,#207c00 267.25px,#387100 267.75px,#5e6300 268.25px,#665d00 268.75px,#475100 269.25px,#2f4000 269.75px,#0f1a00 270.25px,#0a0b00 270.75px,#251100 271.25px,#2b2200 271.75px,#2e5500 272.25px,#2f6300 272.75px,#2a4f00 273.25px,#264400 273.75px,#203e00 274.25px,#193200 274.75px,#0f1a00 275.25px,#0d1a00 275.75px,#143600 276.25px,#235900 276.75px,#326700 277.25px,#4e2f00 277.75px,#840f00 278.25px,#910500 278.75px,#800100 279.25px,#670100 279.75px,#5a0500 280.25px,#500a00 280.75px,#460f00 281.25px,#3d1300 281.75px,#3c1400 282.25px,#391900 282.75px,#2d3c00 283.25px,#356900 283.75px,#4f5300 284.25px,#834200 284.75px,#9e3700 285.25px,#7d3500 285.75px,#294b00 286.25px,#116900 286.75px,#057900 287.25px,#007800 287.75px,#006d00 288.25px,#005a00 288.75px,#004600 289.25px,#003000 289.75px,#002200 290.25px,#003f00 290.75px,#015c00 291.25px,#055500 291.75px,#0c3f00 292.25px,#291500 292.75px,#5a0300 293.25px,#5f0000 293.75px,#550100 294.25px,#350500 294.75px,#180900 295.25px,#260500 295.75px,#3b0100 296.25px,#4b0000 296.75px,#570000 297.25px,#550000 297.75px,#4f0100 298.25px,#410500 298.75px,#320e00 299.25px,#2a2f00 299.75px,#315d00 300.25px,#376e00 300.75px,#3a7500 301.25px,#326e00 301.75px,#2b5e00 302.25px,#363700 302.75px,#482300 303.25px,#322600 303.75px,#213800 304.25px,#115d00 304.75px,#0a6800 305.25px,#0a5e00 305.75px,#0b3600 306.25px,#0b1100 306.75px,#061d00 307.25px,#022f00 307.75px,#063000 308.25px,#1b1c00 308.75px,#610700 309.25px,#790000 309.75px,#690100 310.25px,#450d00 310.75px,#134100 311.25px,#0b6400 311.75px,#0a6c00 312.25px,#0c6c00 312.75px,#126800 313.25px,#127f00 313.75px,#0cbb00 314.25px,#0dc100 314.75px,#168700 315.25px,#3e2b00 315.75px,#8d0600 316.25px,#b40000 316.75px,#c80100 317.25px,#af0500 317.75px,#8c0b00 318.25px,#601a00 318.75px,#1d3900 319.25px,#045c00 319.75px,#005500 320.25px,#004500 320.75px,#002d00 321.25px,#061500 321.75px,#3c1400 322.25px,#7f2100 322.75px,#982e00 323.25px,#944000 323.75px,#796000 324.25px,#697100 324.75px,#5e7e00 325.25px,#478b00 325.75px,#1da000 326.25px,#09a500 326.75px,#029100 327.25px,#005300 327.75px,#001700 328.25px,#030600 328.75px,#130100 329.25px,#500000 329.75px,#8b0100 330.25px,#910500 330.75px,#810d00 331.25px,#3d2900 331.75px,#176100 332.25px,#0a6800 332.75px,#016000 333.25px,#015500 333.75px,#0c5700 334.25px,#276600 334.75px,#375a00 335.25px,#4f3900 335.75px,#423c00 336.25px,#197100 336.75px,#0b8d00 337.25px,#0b9300 337.75px,#168c00 338.25px,#307600 338.75px,#3e5300 339.25px,#4f2e00 339.75px,#234800 340.25px,#058b00 340.75px,#009b00 341.25px,#039c00 341.75px,#148c00 342.25px,#297700 342.75px,#465a00 343.25px,#6e5100 343.75px,#735a00 344.25px,#735b00 344.75px,#8c3200 345.25px,#a50700 345.75px,#a50000 346.25px,#a00000 346.75px,#9b0000 347.25px,#930200 347.75px,#7d0f00 348.25px,#6b1a00 348.75px,#781400 349.25px,#870e00 349.75px,#7d1e00 350.25px,#6d3100 350.75px,#554100 351.25px,#475200 351.75px,#4c4700 352.25px,#583d00 352.75px,#5a3c00 353.25px,#503e00 353.75px,#306700 354.25px,#189900 354.75px,#14aa00 355.25px,#13af00 355.75px,#0f9b00 356.25px,#0f7d00 356.75px,#284600 357.25px,#5a2700 357.75px,#6e1400 358.25px,#710300 358.75px,#550000 359.25px,#320300 359.75px,#151500 360.25px,#0a4000 360.75px,#058200 361.25px,#01b400 361.75px,#058700 362.25px,#0d4600 362.75px,#371400 363.25px,#780300 363.75px,#8c0000 364.25px,#8b0600 364.75px,#542800 365.25px,#2d7600 365.75px,#1bb200 366.25px,#12b600 366.75px,#0c9200 367.25px,#0d7500 367.75px,#125600 368.25px,#195600 368.75px,#215c00 369.25px,#3f3f00 369.75px,#6f3100 370.25px,#772300 370.75px,#6c1200 371.25px,#520500 371.75px,#440500 372.25px,#3e0f00 372.75px,#3c1400 373.25px,#3c1400 373.75px,#3c0f00 374.25px,#3c0500 374.75px,#430500 375.25px,#531000 375.75px,#5a1b00 376.25px,#5b2b00 376.75px,#662d00 377.25px,#812200 377.75px,#9c1a00 378.25px,#c00f00 378.75px,#b91400 379.25px,#7a2900 379.75px,#2a3c00 380.25px,#065d00 380.75px,#005f00 381.25px,#015900 381.75px,#054b00 382.25px,#0d3600 382.75px,#341700 383.25px,#641000 383.75px,#352700 384.25px,#175b00 384.75px,#146e00 385.25px,#186e00 385.75px,#364000 386.25px,#632d00 386.75px,#3b4500 387.25px,#227900 387.75px,#238700 388.25px,#298600 388.75px,#326900 389.25px,#384600 389.75px,#353700 390.25px,#3e3c00 390.75px,#575000 391.25px,#575900 391.75px,#455c00 392.25px,#464a00 392.75px,#5e3900 393.25px,#8b1e00 393.75px,#a80900 394.25px,#8e1000 394.75px,#611700 395.25px,#1b2600 395.75px,#112e00 396.25px,#241700 396.75px,#421200 397.25px,#680e00 397.75px,#772200 398.25px,#6c5500 398.75px,#437c00 399.25px,#237500 399.75px,#323900 400.25px,#472200 400.75px,#4c1200 401.25px,#311400 401.75px,#0b4700 402.25px,#016200 402.75px,#006300 403.25px,#075800 403.75px,#173d00 404.25px,#232d00 404.75px,#382800 405.25px,#2c3400 405.75px,#0d6a00 406.25px,#038c00 406.75px,#08a800 407.25px,#0ab300 407.75px,#0bb000 408.25px,#207a00 408.75px,#802600 409.25px,#bc1500 409.75px,#af1a00 410.25px,#434d00 410.75px,#08b600 411.25px,#00d400 411.75px,#00da00 412.25px,#00bb00 412.75px,#058c00 413.25px,#293300 413.75px,#760600 414.25px,#960500 414.75px,#a00d00 415.25px,#762300 415.75px,#3a3e00 416.25px,#175f00 416.75px,#085600 417.25px,#032100 417.75px,#0d0500 418.25px,#340100 418.75px,#460000 419.25px,#490000 419.75px,#480000 420.25px,#460100 420.75px,#410700 421.25px,#3f0d00 421.75px,#4b0700 422.25px,#580100 422.75px,#5a0000 423.25px,#5a0000 423.75px,#5a0000 424.25px,#5c0000 424.75px,#690000 425.25px,#7c0000 425.75px,#a50000 426.25px,#c70000 426.75px,#b20000 427.25px,#750700 427.75px,#201c00 428.25px,#094300 428.75px,#036e00 429.25px,#057700 429.75px,#0d6900 430.25px,#234200 430.75px,#3e3300 431.25px,#3c5100 431.75px);}
</style></head><body>
<div class="lab" style="left:1.2px;top:-1.5px;font-size:20px;-webkit-text-stroke:0;">A</div>
<div class="lab" style="left:397px;top:11px;font-size:20px;-webkit-text-stroke:0;">B</div>
<div class="abs" id="hmA" style="left:22.0px;top:95.7px;width:251.4px;height:432.1px;background:#300;"><div class="hc" id="hc0"></div><div class="hc" id="hc1"></div><div class="hc" id="hc2"></div></div>
<div class="tk" style="left:63.3px;top:91.3px;width:1px;height:4.3px;"></div><div class="rot" style="left:58.2px;top:87.2px;font-size:12.2px;letter-spacing:0.35px;">KF-28</div>
<div class="tk" style="left:147.2px;top:91.3px;width:1px;height:4.3px;"></div><div class="rot" style="left:142.1px;top:87.2px;font-size:12.2px;letter-spacing:0.35px;">KF-Tx</div>
<div class="tk" style="left:231.1px;top:91.3px;width:1px;height:4.3px;"></div><div class="rot" style="left:226.0px;top:87.2px;font-size:12.2px;letter-spacing:0.35px;">KF-Tx (+Taxol)</div>
<div class="tk" style="left:273.4px;top:116.1px;width:4px;height:1px;"></div><div class="lab" style="left:282.6px;top:111.3px;font-size:12px;">1277</div>
<div class="tk" style="left:273.4px;top:198.4px;width:4px;height:1px;"></div><div class="lab" style="left:282.6px;top:193.6px;font-size:12px;">6277</div>
<div class="tk" style="left:273.4px;top:280.7px;width:4px;height:1px;"></div><div class="lab" style="left:282.6px;top:275.9px;font-size:12px;">11277</div>
<div class="tk" style="left:273.4px;top:363.0px;width:4px;height:1px;"></div><div class="lab" style="left:282.6px;top:358.2px;font-size:12px;">16277</div>
<div class="tk" style="left:273.4px;top:445.3px;width:4px;height:1px;"></div><div class="lab" style="left:282.6px;top:440.5px;font-size:12px;">21277</div>
<div class="abs" style="left:105.8px;top:548.6px;width:83.8px;height:13.7px;background:linear-gradient(to right,#00ff00 0,#000 43.2px,#000 43.3px,#fff 43.4px,#fff 44.9px,#000 45px,#ff0000 83.8px);"></div>
<div class="tk" style="left:105.4px;top:563.3px;width:1px;height:3.8px;background:#777;"></div><div class="rot" style="left:102.8px;top:601.7px;font-size:7.2px;font-family:DejaVu Sans,sans-serif;color:#222;-webkit-text-stroke:0.3px #222;">0.5</div>
<div class="tk" style="left:115.9px;top:563.3px;width:1px;height:3.8px;background:#777;"></div><div class="rot" style="left:113.3px;top:601.7px;font-size:7.2px;font-family:DejaVu Sans,sans-serif;color:#222;-webkit-text-stroke:0.3px #222;">70.0</div>
<div class="tk" style="left:126.4px;top:563.3px;width:1px;height:3.8px;background:#777;"></div><div class="rot" style="left:123.8px;top:601.7px;font-size:7.2px;font-family:DejaVu Sans,sans-serif;color:#222;-webkit-text-stroke:0.3px #222;">148.0</div>
<div class="tk" style="left:136.9px;top:563.3px;width:1px;height:3.8px;background:#777;"></div><div class="rot" style="left:134.3px;top:601.7px;font-size:7.2px;font-family:DejaVu Sans,sans-serif;color:#222;-webkit-text-stroke:0.3px #222;">259.3</div>
<div class="tk" style="left:147.4px;top:563.3px;width:1px;height:3.8px;background:#777;"></div><div class="rot" style="left:144.8px;top:601.7px;font-size:7.2px;font-family:DejaVu Sans,sans-serif;color:#222;-webkit-text-stroke:0.3px #222;">430.0</div>
<div class="tk" style="left:157.9px;top:563.3px;width:1px;height:3.8px;background:#777;"></div><div class="rot" style="left:155.3px;top:601.7px;font-size:7.2px;font-family:DejaVu Sans,sans-serif;color:#222;-webkit-text-stroke:0.3px #222;">731.0</div>
<div class="tk" style="left:168.4px;top:563.3px;width:1px;height:3.8px;background:#777;"></div><div class="rot" style="left:165.8px;top:601.7px;font-size:7.2px;font-family:DejaVu Sans,sans-serif;color:#222;-webkit-text-stroke:0.3px #222;">1288.7</div>
<div class="tk" style="left:178.9px;top:563.3px;width:1px;height:3.8px;background:#777;"></div><div class="rot" style="left:176.3px;top:601.7px;font-size:7.2px;font-family:DejaVu Sans,sans-serif;color:#222;-webkit-text-stroke:0.3px #222;">2717.8</div>
<div class="tk" style="left:189.4px;top:563.3px;width:1px;height:3.8px;background:#777;"></div><div class="rot" style="left:186.8px;top:601.7px;font-size:7.2px;font-family:DejaVu Sans,sans-serif;color:#222;-webkit-text-stroke:0.3px #222;">51000.1</div>
<div class="abs" style="left:442.1px;top:89.7px;width:270.2px;height:201.7px;"><div class="abs" style="left:0.00px;top:0.00px;width:27.32px;height:40.64px;background:#50ff00;"></div><div class="abs" style="left:27.02px;top:0.00px;width:27.32px;height:40.64px;background:#14fa0f;"></div><div class="abs" style="left:54.04px;top:0.00px;width:27.32px;height:40.64px;background:#0af80a;"></div><div class="abs" style="left:81.06px;top:0.00px;width:27.32px;height:40.64px;background:#55ff00;"></div><div class="abs" style="left:108.08px;top:0.00px;width:27.32px;height:40.64px;background:#19fa0f;"></div><div class="abs" style="left:135.10px;top:0.00px;width:27.32px;height:40.64px;background:#5aff00;"></div><div class="abs" style="left:162.12px;top:0.00px;width:27.32px;height:40.64px;background:#37ff00;"></div><div class="abs" style="left:189.14px;top:0.00px;width:27.32px;height:40.64px;background:#00f519;"></div><div class="abs" style="left:216.16px;top:0.00px;width:27.32px;height:40.64px;background:#32fc05;"></div><div class="abs" style="left:243.18px;top:0.00px;width:27.02px;height:40.64px;background:#5fff00;"></div><div class="abs" style="left:0.00px;top:40.34px;width:27.32px;height:40.64px;background:#ff0000;"></div><div class="abs" style="left:27.02px;top:40.34px;width:27.32px;height:40.64px;background:#ffa500;"></div><div class="abs" style="left:54.04px;top:40.34px;width:27.32px;height:40.64px;background:#ff6e00;"></div><div class="abs" style="left:81.06px;top:40.34px;width:27.32px;height:40.64px;background:#ff6e00;"></div><div class="abs" style="left:108.08px;top:40.34px;width:27.32px;height:40.64px;background:#ff6e00;"></div><div class="abs" style="left:135.10px;top:40.34px;width:27.32px;height:40.64px;background:#ff0000;"></div><div class="abs" style="left:162.12px;top:40.34px;width:27.32px;height:40.64px;background:#ff7300;"></div><div class="abs" style="left:189.14px;top:40.34px;width:27.32px;height:40.64px;background:#ffc800;"></div><div class="abs" style="left:216.16px;top:40.34px;width:27.32px;height:40.64px;background:#ff6e00;"></div><div class="abs" style="left:243.18px;top:40.34px;width:27.02px;height:40.64px;background:#ff0000;"></div><div class="abs" style="left:0.00px;top:80.68px;width:27.32px;height:40.64px;background:#ff0000;"></div><div class="abs" style="left:27.02px;top:80.68px;width:27.32px;height:40.64px;background:#ff0000;"></div><div class="abs" style="left:54.04px;top:80.68px;width:27.32px;height:40.64px;background:#ff0000;"></div><div class="abs" style="left:81.06px;top:80.68px;width:27.32px;height:40.64px;background:#ff0000;"></div><div class="abs" style="left:108.08px;top:80.68px;width:27.32px;height:40.64px;background:#ff0000;"></div><div class="abs" style="left:135.10px;top:80.68px;width:27.32px;height:40.64px;background:#ff0000;"></div><div class="abs" style="left:162.12px;top:80.68px;width:27.32px;height:40.64px;background:#ff0000;"></div><div class="abs" style="left:189.14px;top:80.68px;width:27.32px;height:40.64px;background:#ff0000;"></div><div class="abs" style="left:216.16px;top:80.68px;width:27.32px;height:40.64px;background:#ff0000;"></div><div class="abs" style="left:243.18px;top:80.68px;width:27.02px;height:40.64px;background:#ff0000;"></div><div class="abs" style="left:0.00px;top:121.02px;width:27.32px;height:40.64px;background:#ffc800;"></div><div class="abs" style="left:27.02px;top:121.02px;width:27.32px;height:40.64px;background:#afff00;"></div><div class="abs" style="left:54.04px;top:121.02px;width:27.32px;height:40.64px;background:#96ff00;"></div><div class="abs" style="left:81.06px;top:121.02px;width:27.32px;height:40.64px;background:#ffa500;"></div><div class="abs" style="left:108.08px;top:121.02px;width:27.32px;height:40.64px;background:#b4ff00;"></div><div class="abs" style="left:135.10px;top:121.02px;width:27.32px;height:40.64px;background:#ff6900;"></div><div class="abs" style="left:162.12px;top:121.02px;width:27.32px;height:40.64px;background:#ffa500;"></div><div class="abs" style="left:189.14px;top:121.02px;width:27.32px;height:40.64px;background:#6eff00;"></div><div class="abs" style="left:216.16px;top:121.02px;width:27.32px;height:40.64px;background:#ebff00;"></div><div class="abs" style="left:243.18px;top:121.02px;width:27.02px;height:40.64px;background:#b9ff00;"></div><div class="abs" style="left:0.00px;top:161.36px;width:27.32px;height:40.34px;background:#c8ff00;"></div><div class="abs" style="left:27.02px;top:161.36px;width:27.32px;height:40.34px;background:#fff000;"></div><div class="abs" style="left:54.04px;top:161.36px;width:27.32px;height:40.34px;background:#78ff00;"></div><div class="abs" style="left:81.06px;top:161.36px;width:27.32px;height:40.34px;background:#fff000;"></div><div class="abs" style="left:108.08px;top:161.36px;width:27.32px;height:40.34px;background:#fff000;"></div><div class="abs" style="left:135.10px;top:161.36px;width:27.32px;height:40.34px;background:#e6ff00;"></div><div class="abs" style="left:162.12px;top:161.36px;width:27.32px;height:40.34px;background:#beff00;"></div><div class="abs" style="left:189.14px;top:161.36px;width:27.32px;height:40.34px;background:#78ff00;"></div><div class="abs" style="left:216.16px;top:161.36px;width:27.32px;height:40.34px;background:#fff000;"></div><div class="abs" style="left:243.18px;top:161.36px;width:27.02px;height:40.34px;background:#ffc800;"></div></div>
<div class="tk" style="left:712.4px;top:109.9px;width:3px;height:1px;background:#555;"></div><div class="lab" style="left:719.1px;top:104.9px;font-size:9.6px;">hsa-miR-7-5p</div>
<div class="tk" style="left:712.4px;top:150.2px;width:3px;height:1px;background:#555;"></div><div class="lab" style="left:719.1px;top:145.2px;font-size:9.6px;">hsa-miR-204-3p</div>
<div class="tk" style="left:712.4px;top:190.6px;width:3px;height:1px;background:#555;"></div><div class="lab" style="left:719.1px;top:185.6px;font-size:9.6px;">hsa-miR-3652</div>
<div class="tk" style="left:712.4px;top:230.9px;width:3px;height:1px;background:#555;"></div><div class="lab" style="left:719.1px;top:225.9px;font-size:9.6px;">hsa-miR-501-5p</div>
<div class="tk" style="left:712.4px;top:271.2px;width:3px;height:1px;background:#555;"></div><div class="lab" style="left:719.1px;top:266.2px;font-size:9.6px;">hsa-miR-4286</div>
<div class="tk" style="left:455.1px;top:291.3px;width:1px;height:3.6px;background:#555;"></div><div class="rot" style="left:449.4px;top:298.3px;font-size:9.6px;transform:rotate(-90deg) translateX(-100%);">HIF-1 signaling pathway</div>
<div class="tk" style="left:482.1px;top:291.3px;width:1px;height:3.6px;background:#555;"></div><div class="rot" style="left:476.4px;top:298.3px;font-size:9.6px;transform:rotate(-90deg) translateX(-100%);">Proteoglycans in cancer</div>
<div class="tk" style="left:509.2px;top:291.3px;width:1px;height:3.6px;background:#555;"></div><div class="rot" style="left:503.5px;top:298.3px;font-size:9.6px;transform:rotate(-90deg) translateX(-100%);">PI3K-Akt signaling pathway</div>
<div class="tk" style="left:536.2px;top:291.3px;width:1px;height:3.6px;background:#555;"></div><div class="rot" style="left:530.5px;top:298.3px;font-size:9.6px;transform:rotate(-90deg) translateX(-100%);">Wnt signaling pathway</div>
<div class="tk" style="left:563.2px;top:291.3px;width:1px;height:3.6px;background:#555;"></div><div class="rot" style="left:557.5px;top:298.3px;font-size:9.6px;transform:rotate(-90deg) translateX(-100%);">Regulation of actin cytoskeleton</div>
<div class="tk" style="left:590.2px;top:291.3px;width:1px;height:3.6px;background:#555;"></div><div class="rot" style="left:584.5px;top:298.3px;font-size:9.6px;transform:rotate(-90deg) translateX(-100%);">ErbB signaling pathway</div>
<div class="tk" style="left:617.2px;top:291.3px;width:1px;height:3.6px;background:#555;"></div><div class="rot" style="left:611.5px;top:298.3px;font-size:9.6px;transform:rotate(-90deg) translateX(-100%);">FoxO signaling pathway</div>
<div class="tk" style="left:644.2px;top:291.3px;width:1px;height:3.6px;background:#555;"></div><div class="rot" style="left:638.5px;top:298.3px;font-size:9.6px;transform:rotate(-90deg) translateX(-100%);">Pathways in cancer</div>
<div class="tk" style="left:671.3px;top:291.3px;width:1px;height:3.6px;background:#555;"></div><div class="rot" style="left:665.6px;top:298.3px;font-size:9.6px;transform:rotate(-90deg) translateX(-100%);">Hippo signaling pathway</div>
<div class="tk" style="left:698.3px;top:291.3px;width:1px;height:3.6px;background:#555;"></div><div class="rot" style="left:692.6px;top:298.3px;font-size:9.6px;transform:rotate(-90deg) translateX(-100%);">Adherens junction</div>
<svg class="abs" style="left:380px;top:85px;" width="62" height="215" viewBox="380 85 62 215" fill="none" stroke="#777" stroke-width="1">
<path d="M435.5 109.9H388.7V210.3H427.6"/>
<path d="M435.7 150.4H433.6V190.5H435.7"/>
<path d="M433.6 170.4H427.6V251.5H431.7"/>
<path d="M435.7 231.2H431.7V271.2H435.7"/>
</svg>
<svg class="abs" style="left:720px;top:288.5px;" width="60" height="10" viewBox="720 288 60 10" fill="none" stroke="#555" stroke-width="0.8"><path d="M728.1 295.2V292H770.4V295.2M736.6 292V295.2M745 292V295.2M753.5 292V295.2M761.9 292V295.2"/></svg>
<div class="lab" style="left:729.3px;top:299.8px;font-size:5.8px;color:#222;-webkit-text-stroke:0.15px #222;width:0;text-align:center;"><span style="display:inline-block;transform:translateX(-50%);">100</span></div><div class="lab" style="left:745.5px;top:299.8px;font-size:5.8px;color:#222;-webkit-text-stroke:0.15px #222;width:0;text-align:center;"><span style="display:inline-block;transform:translateX(-50%);">60</span></div><div class="lab" style="left:761.6px;top:299.8px;font-size:5.8px;color:#222;-webkit-text-stroke:0.15px #222;width:0;text-align:center;"><span style="display:inline-block;transform:translateX(-50%);">20</span></div><div class="lab" style="left:726px;top:309.5px;font-size:11.3px;color:#222;-webkit-text-stroke:0.15px #222;">Euclidean</div>
<div class="lab" style="left:730.7px;top:324.8px;font-size:11.3px;color:#222;-webkit-text-stroke:0.15px #222;">distance</div>
<div class="abs" style="left:487.8px;top:440.8px;width:181.2px;height:24.4px;background:linear-gradient(to right,#ff0000 0%,#ff7800 25%,#ffff00 50%,#80ff00 75%,#00ff2a 100%);"></div>
<div class="tk" style="left:488.4px;top:465.2px;width:1px;height:6.8px;background:#222;"></div><div class="tk" style="left:559.7px;top:465.2px;width:1px;height:6.8px;background:#222;"></div><div class="tk" style="left:594.1px;top:465.2px;width:1px;height:6.8px;background:#222;"></div><div class="tk" style="left:610.4px;top:465.2px;width:1px;height:6.8px;background:#222;"></div><div class="tk" style="left:627.9px;top:465.2px;width:1px;height:6.8px;background:#222;"></div><div class="tk" style="left:639.8px;top:465.2px;width:1px;height:6.8px;background:#222;"></div><div class="tk" style="left:652.3px;top:465.2px;width:1px;height:6.8px;background:#222;"></div><div class="tk" style="left:658.2px;top:465.2px;width:1px;height:6.8px;background:#222;"></div><div class="tk" style="left:669.2px;top:465.2px;width:1px;height:6.8px;background:#222;"></div><div class="lab" style="left:488.6px;top:479px;font-size:8.6px;width:0;color:#111;-webkit-text-stroke:0.2px #111;"><span style="display:inline-block;transform:translateX(-50%);">0</span></div><div class="lab" style="left:560.0px;top:479px;font-size:8.6px;width:0;color:#111;-webkit-text-stroke:0.2px #111;"><span style="display:inline-block;transform:translateX(-50%);">3</span></div><div class="lab" style="left:594.5px;top:479px;font-size:8.6px;width:0;color:#111;-webkit-text-stroke:0.2px #111;"><span style="display:inline-block;transform:translateX(-50%);">5</span></div><div class="lab" style="left:608.7px;top:479px;font-size:8.6px;width:0;color:#111;-webkit-text-stroke:0.2px #111;"><span style="display:inline-block;transform:translateX(-50%);">7</span></div><div class="lab" style="left:626.0px;top:479px;font-size:8.6px;width:0;color:#111;-webkit-text-stroke:0.2px #111;"><span style="display:inline-block;transform:translateX(-50%);">12</span></div><div class="lab" style="left:638.3px;top:479px;font-size:8.6px;width:0;color:#111;-webkit-text-stroke:0.2px #111;"><span style="display:inline-block;transform:translateX(-50%);">23</span></div><div class="lab" style="left:656.6px;top:479px;font-size:8.6px;width:0;color:#111;-webkit-text-stroke:0.2px #111;"><span style="display:inline-block;transform:translateX(-50%);">3335</span></div><div class="lab" style="left:672.7px;top:479px;font-size:8.6px;width:0;color:#111;-webkit-text-stroke:0.2px #111;"><span style="display:inline-block;transform:translateX(-50%);">71</span></div>
</body></html>
